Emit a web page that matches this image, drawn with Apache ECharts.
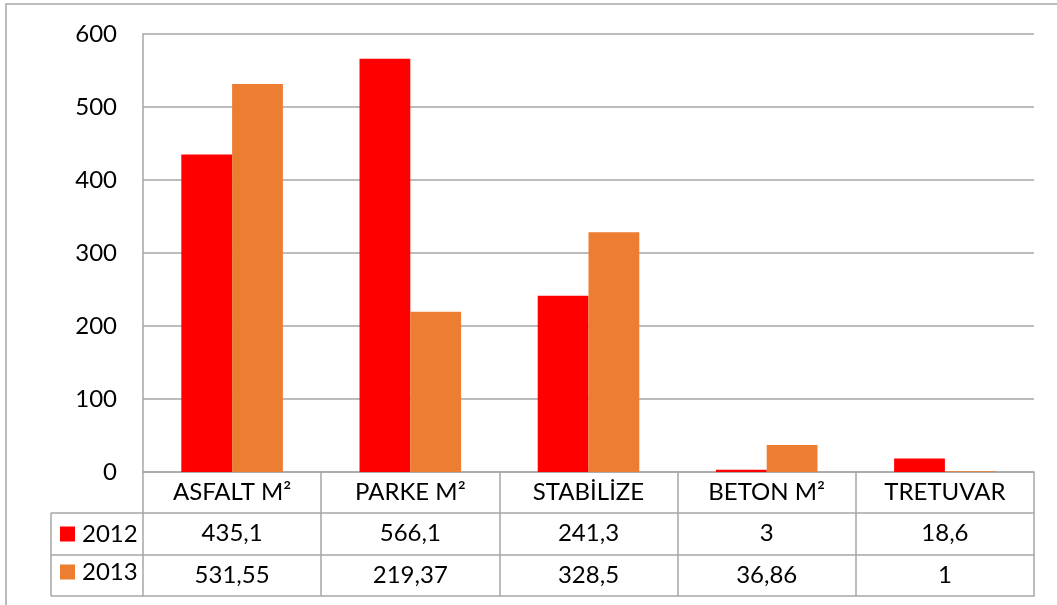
<!DOCTYPE html>
<html>
<head>
<meta charset="utf-8">
<script src="https://cdn.jsdelivr.net/npm/echarts@6/dist/echarts.min.js"></script>
<style>
  html, body { margin: 0; padding: 0; background: #fff; }
  #main { width: 1057px; height: 605px; }
</style>
</head>
<body>
<div id="main"></div>
<script>
// chart data
const categories = ['ASFALT M²', 'PARKE M²', 'STABİLİZE', 'BETON M²', 'TRETUVAR'];
const seriesNames = ['2012', '2013'];
const values2012 = [435.1, 566.1, 241.3, 3, 18.6];
const values2013 = [531.55, 219.37, 328.5, 36.86, 1];
const yTicks = [0, 100, 200, 300, 400, 500, 600];

const colors = ['#FF0000', '#ED7D31'];
const lineColor = '#a6a6a6';
const font = 'Lato, "Open Sans", sans-serif';
const fontSize = 24;

// Turkish style decimal comma
const fmt = (v) => String(v).replace('.', ',');

const chart = echarts.init(document.getElementById('main'));

// table rows drawn as extra bottom axes, one per row
const tableAxis = (offset, labels, showTicks) => ({
  type: 'category',
  position: 'bottom',
  offset: offset,
  data: categories,
  axisLine: { show: true, lineStyle: { color: lineColor, width: 1.5 } },
  axisTick: { show: showTicks, length: 124, lineStyle: { color: lineColor, width: 1.5 } },
  axisLabel: {
    show: labels !== null,
    margin: 8,
    interval: 0,
    fontSize: fontSize,
    lineHeight: 24,
    fontFamily: font,
    color: '#000',
    formatter: (v, i) => (labels ? labels[i] : v)
  },
  splitLine: { show: false }
});

const legendItem = (name, top) => ({
  data: [name],
  left: 60,
  top: top,
  padding: 0,
  icon: 'rect',
  itemWidth: 15,
  itemHeight: 15,
  itemGap: 0,
  textStyle: { fontSize: fontSize, lineHeight: 24, fontFamily: font, color: '#000', padding: [0, 0, 0, 2] },
  selectedMode: false
});

const option = {
  animation: false,
  backgroundColor: '#fff',
  color: colors,
  grid: { left: 143, right: 23, top: 34, bottom: 133 },
  legend: [
    legendItem(seriesNames[0], 522),
    legendItem(seriesNames[1], 560)
  ],
  xAxis: [
    tableAxis(0, categories, true),
    tableAxis(41, values2012.map(fmt), false),
    tableAxis(83, values2013.map(fmt), false),
    tableAxis(124, null, false)
  ],
  yAxis: {
    type: 'value',
    min: yTicks[0],
    max: yTicks[yTicks.length - 1],
    interval: 100,
    axisLine: { show: true, lineStyle: { color: lineColor, width: 1.5 } },
    axisTick: { show: false },
    axisLabel: { fontSize: fontSize, fontFamily: font, color: '#000', margin: 26 },
    splitLine: { lineStyle: { color: lineColor, width: 1.5 } }
  },
  series: [
    {
      name: seriesNames[0],
      type: 'bar',
      data: values2012,
      barGap: '0%',
      barCategoryGap: '43%'
    },
    {
      name: seriesNames[1],
      type: 'bar',
      data: values2013,
      barGap: '0%',
      barCategoryGap: '43%'
    }
  ],
  graphic: [
    // outer chart frame
    { type: 'rect', shape: { x: 6, y: 4, width: 1060, height: 620 }, style: { fill: 'none', stroke: '#a6a6a6', lineWidth: 1.5 }, silent: true },
    // legend column of the data table
    { type: 'line', shape: { x1: 51, y1: 513, x2: 143, y2: 513 }, style: { stroke: lineColor, lineWidth: 1.5 } },
    { type: 'line', shape: { x1: 51, y1: 555, x2: 143, y2: 555 }, style: { stroke: lineColor, lineWidth: 1.5 } },
    { type: 'line', shape: { x1: 51, y1: 596, x2: 143, y2: 596 }, style: { stroke: lineColor, lineWidth: 1.5 } },
    { type: 'line', shape: { x1: 51, y1: 513, x2: 51, y2: 596 }, style: { stroke: lineColor, lineWidth: 1.5 } }
  ]
};

chart.setOption(option);
</script>
</body>
</html>
